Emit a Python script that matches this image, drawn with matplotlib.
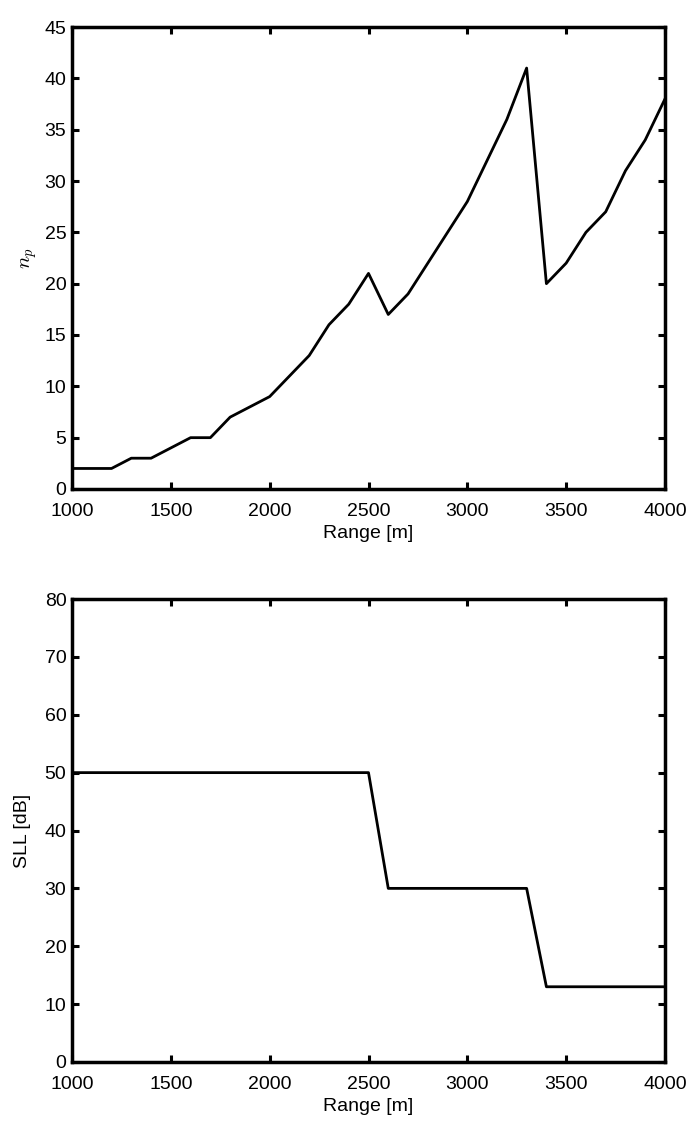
import matplotlib
matplotlib.use("Agg")
import matplotlib.pyplot as plt

plt.rcParams['font.family'] = ['Liberation Sans', 'DejaVu Sans']
plt.rcParams['mathtext.fontset'] = 'cm'

range_m = [1000, 1100, 1200, 1300, 1400, 1500, 1600, 1700, 1800, 1900, 2000,
           2100, 2200, 2300, 2400, 2500, 2600, 2700, 2800, 2900, 3000,
           3100, 3200, 3300, 3400, 3500, 3600, 3700, 3800, 3900, 4000]
n_p = [2, 2, 2, 3, 3, 4, 5, 5, 7, 8, 9,
       11, 13, 16, 18, 21, 17, 19, 22, 25, 28,
       32, 36, 41, 20, 22, 25, 27, 31, 34, 38]
sll_db = [50, 50, 50, 50, 50, 50, 50, 50, 50, 50, 50,
          50, 50, 50, 50, 50, 30, 30, 30, 30, 30,
          30, 30, 30, 13, 13, 13, 13, 13, 13, 13]
x_ticks = [1000, 1500, 2000, 2500, 3000, 3500, 4000]
y1_ticks = list(range(0, 46, 5))
y2_ticks = list(range(0, 81, 10))

W, H = 693, 1135
fig = plt.figure(figsize=(W / 100, H / 100), dpi=100)

def style(ax):
    for s in ax.spines.values():
        s.set_linewidth(2.5)
    ax.tick_params(direction='in', top=True, right=True, length=5, width=2.2,
                   labelsize=14)
    ax.tick_params(axis='x', pad=10)
    ax.tick_params(axis='y', pad=4)

ax1 = fig.add_axes([72 / W, 1 - 489 / H, 593 / W, 462 / H])
ax1.plot(range_m, n_p, color='black', lw=2)
ax1.set_xlim(1000, 4000)
ax1.set_ylim(0, 45)
ax1.set_xticks(x_ticks)
ax1.set_yticks(y1_ticks)
style(ax1)
ax1.set_xlabel('Range [m]', fontsize=14, labelpad=4)
ax1.set_ylabel('$n_p$', fontsize=15, labelpad=4)

ax2 = fig.add_axes([72 / W, 1 - 1062 / H, 593 / W, 463 / H])
ax2.plot(range_m, sll_db, color='black', lw=2)
ax2.set_xlim(1000, 4000)
ax2.set_ylim(0, 80)
ax2.set_xticks(x_ticks)
ax2.set_yticks(y2_ticks)
style(ax2)
ax2.set_xlabel('Range [m]', fontsize=14, labelpad=4)
ax2.set_ylabel('SLL [dB]', fontsize=14, labelpad=10)

fig.savefig('out.png', dpi=100)
